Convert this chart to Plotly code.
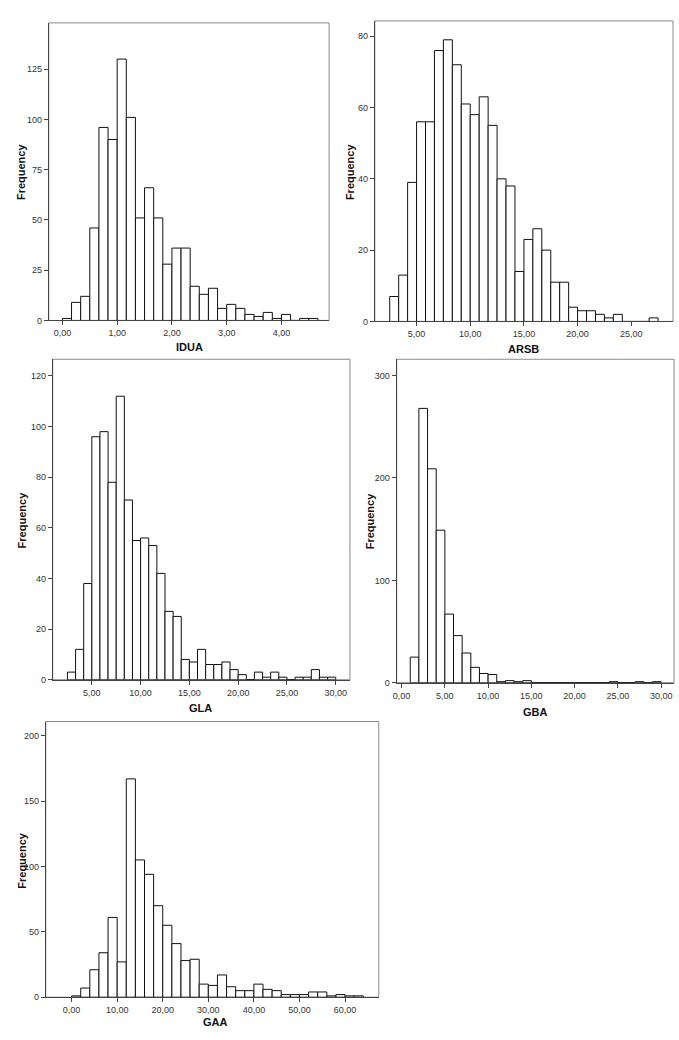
import plotly.graph_objects as go

W, H = 679, 1040

# ---------------- data ----------------
idua_bin_start = 0.0
idua_bin_width = 1 / 6
idua_counts = [1, 9, 12, 46, 96, 90, 130, 101, 51, 66, 51, 28, 36, 36,
               17, 13, 16, 6, 8, 6, 3, 2, 4, 1, 3, 0, 1, 1]

arsb_bin_start = 2.5
arsb_bin_width = 5 / 6
arsb_counts = [7, 13, 39, 56, 56, 76, 79, 72, 61, 58, 63, 55, 40, 38, 14,
               23, 26, 20, 11, 11, 4, 3, 3, 2, 1, 2, 0, 0, 0, 1]

gla_bin_start = 2.5
gla_bin_width = 5 / 6
gla_counts = [3, 12, 38, 96, 98, 78, 112, 71, 55, 56, 53, 42, 27, 25, 8, 7,
              12, 6, 6, 7, 4, 2, 0, 3, 1, 3, 1, 0, 1, 1, 4, 1, 1]

gba_bin_start = 1.0
gba_bin_width = 1.0
gba_counts = [25, 268, 209, 149, 67, 46, 29, 15, 9, 8, 1, 2, 1, 2,
              0, 0, 0, 0, 0, 0, 0, 0, 0, 1, 0, 0, 1, 0, 1]

gaa_bin_start = 0.0
gaa_bin_width = 2.0
gaa_counts = [1, 7, 21, 34, 61, 27, 167, 105, 94, 70, 55, 41, 28, 29, 10, 9,
              17, 8, 5, 5, 10, 6, 5, 2, 2, 2, 4, 4, 1, 2, 1, 1]

idua_xticks = [0, 1, 2, 3, 4]
arsb_xticks = [5, 10, 15, 20, 25]
gla_xticks = [5, 10, 15, 20, 25, 30]
gba_xticks = [0, 5, 10, 15, 20, 25, 30]
gaa_xticks = [0, 10, 20, 30, 40, 50, 60]

idua_yticks = [0, 25, 50, 75, 100, 125]
arsb_yticks = [0, 20, 40, 60, 80]
gla_yticks = [0, 20, 40, 60, 80, 100, 120]
gba_yticks = [0, 100, 200, 300]
gaa_yticks = [0, 50, 100, 150, 200]

# ---------------- layout geometry (pixels in the 679x1040 window) ----------------
panels = [
    dict(name="IDUA", start=idua_bin_start, width=idua_bin_width, counts=idua_counts,
         xt=idua_xticks, yt=idua_yticks, box=(45, 327, 23, 322),
         xr=[-0.25, 4.87], yr=[0, 148], title_xy=(187, 349), freq_xy=(17, 172)),
    dict(name="ARSB", start=arsb_bin_start, width=arsb_bin_width, counts=arsb_counts,
         xt=arsb_xticks, yt=arsb_yticks, box=(373, 673, 21, 323),
         xr=[1.11, 28.89], yr=[0, 84.3], title_xy=(523, 351), freq_xy=(348, 172)),
    dict(name="GLA", start=gla_bin_start, width=gla_bin_width, counts=gla_counts,
         xt=gla_xticks, yt=gla_yticks, box=(49, 348, 361, 683),
         xr=[0.99, 31.46], yr=[0, 126.6], title_xy=(198, 711), freq_xy=(19, 522)),
    dict(name="GBA", start=gba_bin_start, width=gba_bin_width, counts=gba_counts,
         xt=gba_xticks, yt=gba_yticks, box=(395, 674, 361, 686),
         xr=[-0.57, 31.49], yr=[0, 316], title_xy=(535, 715), freq_xy=(369, 523)),
    dict(name="GAA", start=gaa_bin_start, width=gaa_bin_width, counts=gaa_counts,
         xt=gaa_xticks, yt=gaa_yticks, box=(42, 377, 725, 1002),
         xr=[-5.67, 67.4], yr=[0, 210.9], title_xy=(213, 1027), freq_xy=(18, 864)),
]

FONT = "Arial, Liberation Sans, sans-serif"
AXIS_COLOR = "#444444"
FRAME_COLOR = "#8a8a8a"


def px(x):
    return x / W


def py(y):
    return 1 - y / H


fig = go.Figure()
layout = dict(
    width=W, height=H,
    margin=dict(l=0, r=0, t=0, b=0),
    paper_bgcolor="white", plot_bgcolor="white",
    showlegend=False,
    font=dict(family=FONT, size=9, color="#333333"),
)
shapes = []
annotations = []

for i, p in enumerate(panels, start=1):
    sfx = "" if i == 1 else str(i)
    centers = [p["start"] + p["width"] * (k + 0.5) for k in range(len(p["counts"]))]
    fig.add_trace(go.Bar(
        x=centers, y=p["counts"], width=p["width"],
        marker=dict(color="white", line=dict(color="#111111", width=1)),
        xaxis="x" + sfx, yaxis="y" + sfx, hoverinfo="x+y",
    ))
    x0, x1, y0, y1 = p["box"]
    dom_x = [px(x0), px(x1)]
    dom_y = [py(y1), py(y0)]
    layout["xaxis" + sfx] = dict(
        domain=dom_x, anchor="y" + sfx, range=p["xr"],
        tickmode="array", tickvals=p["xt"],
        ticktext=[f"{v:.2f}".replace(".", ",") for v in p["xt"]],
        ticks="outside", ticklen=4, tickcolor=AXIS_COLOR,
        showline=True, linecolor=AXIS_COLOR, linewidth=1,
        showgrid=False, zeroline=False, fixedrange=True,
        tickfont=dict(size=9, color="#333333"),
    )
    layout["yaxis" + sfx] = dict(
        domain=dom_y, anchor="x" + sfx, range=p["yr"],
        tickmode="array", tickvals=p["yt"],
        ticks="outside", ticklen=4, tickcolor=AXIS_COLOR,
        showline=True, linecolor=AXIS_COLOR, linewidth=1,
        showgrid=False, zeroline=False, fixedrange=True,
        tickfont=dict(size=9, color="#333333"),
    )
    # light frame (top / right)
    shapes.append(dict(type="rect", xref="x" + sfx + " domain", yref="y" + sfx + " domain",
                       x0=0, x1=1, y0=0, y1=1, line=dict(color=FRAME_COLOR, width=1),
                       fillcolor="rgba(0,0,0,0)", layer="below"))
    tx, ty = p["title_xy"]
    annotations.append(dict(text="<b>" + p["name"] + "</b>", xref="paper", yref="paper",
                            x=px(tx), y=py(ty), showarrow=False,
                            xanchor="center", yanchor="middle",
                            font=dict(family=FONT, size=11, color="#111111")))
    fx, fy = p["freq_xy"]
    annotations.append(dict(text="<b>Frequency</b>", xref="paper", yref="paper",
                            x=px(fx), y=py(fy), showarrow=False, textangle=-90,
                            xanchor="center", yanchor="middle",
                            font=dict(family=FONT, size=11, color="#111111")))

layout["shapes"] = shapes
layout["annotations"] = annotations
layout["bargap"] = 0
layout["hovermode"] = False
fig.update_layout(**layout)
fig.write_html(
    "out.html",
    config={"displayModeBar": False, "staticPlot": True},
    post_script="document.body.style.margin='0';document.body.style.overflow='hidden';",
)
